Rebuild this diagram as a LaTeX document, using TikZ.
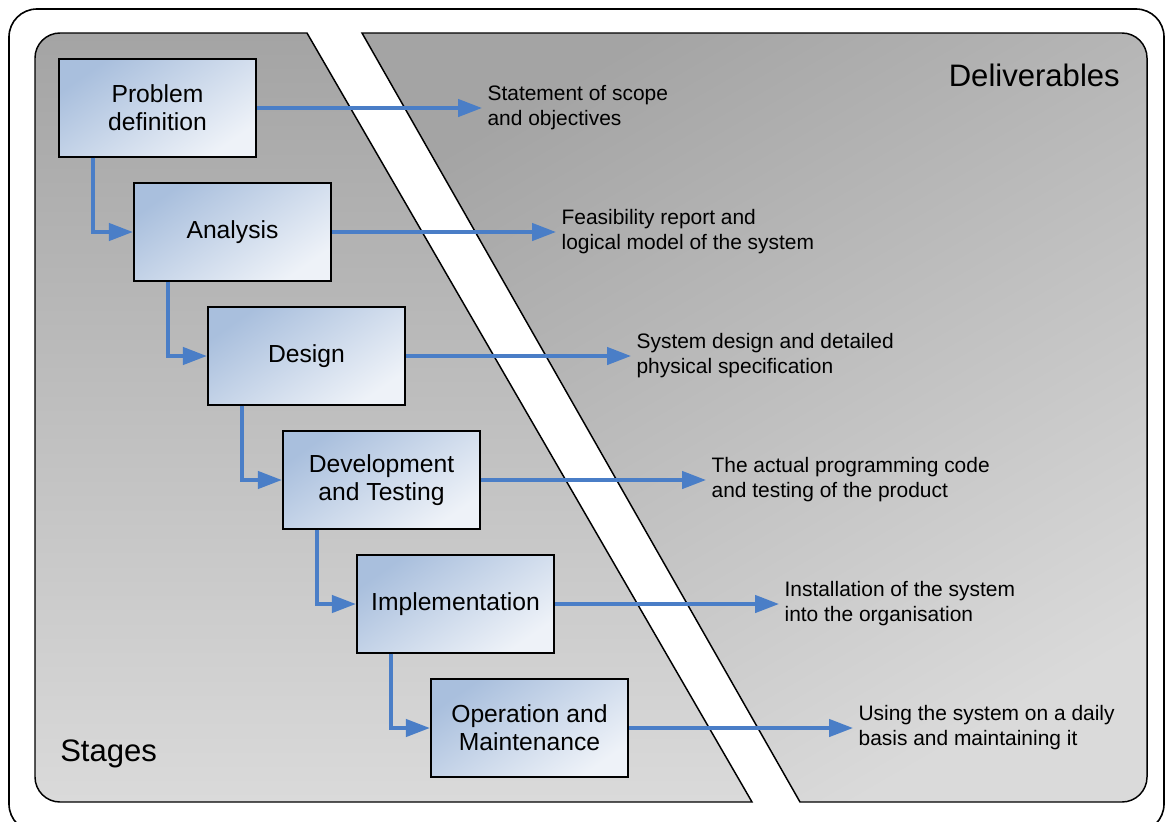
\documentclass[tikz,border=0pt]{standalone}
\usepackage{fontspec}
\setmainfont{Liberation Sans}
\usetikzlibrary{calc}
\usetikzlibrary{arrows.meta}
\definecolor{flowblue}{HTML}{4A7EC7}
\definecolor{boxdark}{HTML}{A9BFDD}
\definecolor{boxlight}{HTML}{EEF2F8}
\definecolor{paneldark}{HTML}{A4A4A4}
\definecolor{panellight}{HTML}{DADADA}

\begin{document}
\begin{tikzpicture}[x=0.75pt, y=-0.75pt,
  stage/.style={draw=black, line width=1.5pt, top color=boxdark, bottom color=boxlight,
    shading angle=35, minimum width=148pt, minimum height=73pt, align=center,
    font=\fontsize{18.5}{21}\selectfont},
  deliv/.style={anchor=west, align=left, inner sep=4pt, font=\fontsize{15.7}{18.75}\selectfont},
  title/.style={inner sep=0pt, font=\fontsize{23.3}{28}\selectfont},
  panel/.style={draw=black, line width=1.1pt, top color=paneldark, bottom color=panellight},
  flow/.style={flowblue, line width=2.6pt, -{Triangle[length=18pt,width=13pt]}}]
\useasboundingbox (0,0) rectangle (1166,821);
\clip (0,0) rectangle (1166,821);
\fill[white] (0,0) rectangle (1166,821);

% frame
\draw[line width=1.2pt, rounded corners=21pt] (9,9) rectangle (1164,832);

% panels
\draw[panel] (307,33) -- (60,33) arc[start angle=270, end angle=180, radius=25]
  -- (35,777) arc[start angle=180, end angle=90, radius=25] -- (752,802) -- cycle;
\draw[panel, shading angle=30] (362,33) -- (1122,33) arc[start angle=270, end angle=360, radius=25]
  -- (1147,777) arc[start angle=0, end angle=90, radius=25] -- (800,802) -- cycle;

\node[title, anchor=base east] (deliverables) at (1120,86) {Deliverables};
\node[title, anchor=base west] (stages) at (60,761) {Stages};

% stages
\node[stage] (problem) at (157.5,108) {Problem\\definition};
\node[stage] (analysis) at ($(problem)+(75,124)$) {Analysis};
\node[stage] (design) at ($(analysis)+(74,124)$) {Design};
\node[stage] (devel) at ($(design)+(75,124)$) {Development\\and Testing};
\node[stage] (implement) at ($(devel)+(74,124)$) {Implementation};
\node[stage] (operation) at ($(implement)+(74,124)$) {Operation and\\Maintenance};

% deliverables
\node[deliv] (scope) at (482,108) {Statement of scope\\and objectives};
\node[deliv] (feasible) at (556,232) {Feasibility report and\\logical model of the system};
\node[deliv] (spec) at (631,356) {System design and detailed\\physical specification};
\node[deliv] (code) at (706,480) {The actual programming code\\and testing of the product};
\node[deliv] (install) at (779,604) {Installation of the system\\into the organisation};
\node[deliv] (daily) at (853,728) {Using the system on a daily\\basis and maintaining it};

% arrows
\draw[flow] ($(problem.south west)+(35,0)$) |- (analysis.west);
\draw[flow] ($(analysis.south west)+(35,0)$) |- (design.west);
\draw[flow] ($(design.south west)+(35,0)$) |- (devel.west);
\draw[flow] ($(devel.south west)+(35,0)$) |- (implement.west);
\draw[flow] ($(implement.south west)+(35,0)$) |- (operation.west);

\draw[flow] (problem.east) -- (scope.west);
\draw[flow] (analysis.east) -- (feasible.west);
\draw[flow] (design.east) -- (spec.west);
\draw[flow] (devel.east) -- (code.west);
\draw[flow] (implement.east) -- (install.west);
\draw[flow] (operation.east) -- (daily.west);

\end{tikzpicture}
\end{document}
